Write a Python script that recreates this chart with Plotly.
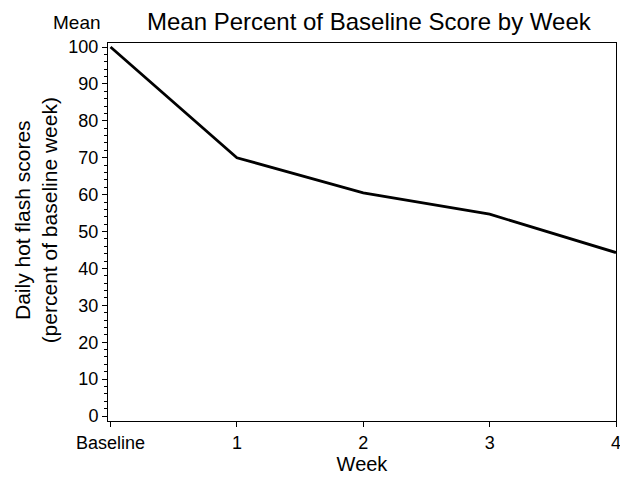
import plotly.graph_objects as go

weeks = ["Baseline", "1", "2", "3", "4"]
week_pos = [0, 1, 2, 3, 4]
mean_pct = [100, 70, 60.5, 54.7, 44.3]
y_ticks = [0, 10, 20, 30, 40, 50, 60, 70, 80, 90, 100]

font = "Liberation Sans, Arial, sans-serif"

fig = go.Figure()
fig.add_trace(go.Scatter(x=week_pos, y=mean_pct, mode="lines",
                         line=dict(color="black", width=2.8), showlegend=False))

fig.update_layout(
    width=620, height=471,
    margin=dict(l=100, r=7, t=35, b=57),
    paper_bgcolor="white", plot_bgcolor="white",
    font=dict(family=font, color="black", size=18),
    title=dict(text="Mean Percent of Baseline Score by Week", x=0.582, xanchor="center",
               y=0.971, yanchor="middle", font=dict(size=24)),
    xaxis=dict(range=[-0.02, 4.0], tickmode="array", tickvals=week_pos, ticktext=weeks,
               showgrid=False, zeroline=False, showline=True, linecolor="black", linewidth=1,
               mirror=True, ticks="outside", ticklen=5, tickcolor="black",
               tickfont=dict(size=18),
               title=dict(text="Week", font=dict(size=20), standoff=5)),
    yaxis=dict(range=[-1.35, 101.1], tickmode="array", tickvals=y_ticks,
               showgrid=False, zeroline=False, showline=True, linecolor="black", linewidth=1,
               mirror=True, ticks="outside", ticklen=5, tickcolor="black",
               minor=dict(dtick=2, ticks="outside", ticklen=3, tickcolor="black"),
               tickfont=dict(size=18)),
    annotations=[
        dict(text="Mean", xref="paper", yref="paper", x=-0.062, y=1.0, xanchor="center",
             yanchor="bottom", showarrow=False, yshift=8, font=dict(size=19)),
        dict(text="Daily hot flash scores<br>(percent of baseline week)", xref="paper", yref="paper",
             x=-0.1423, y=0.53, xanchor="center", yanchor="middle", textangle=-90,
             showarrow=False, font=dict(size=21)),
    ],
)

fig.write_html("out.html")
